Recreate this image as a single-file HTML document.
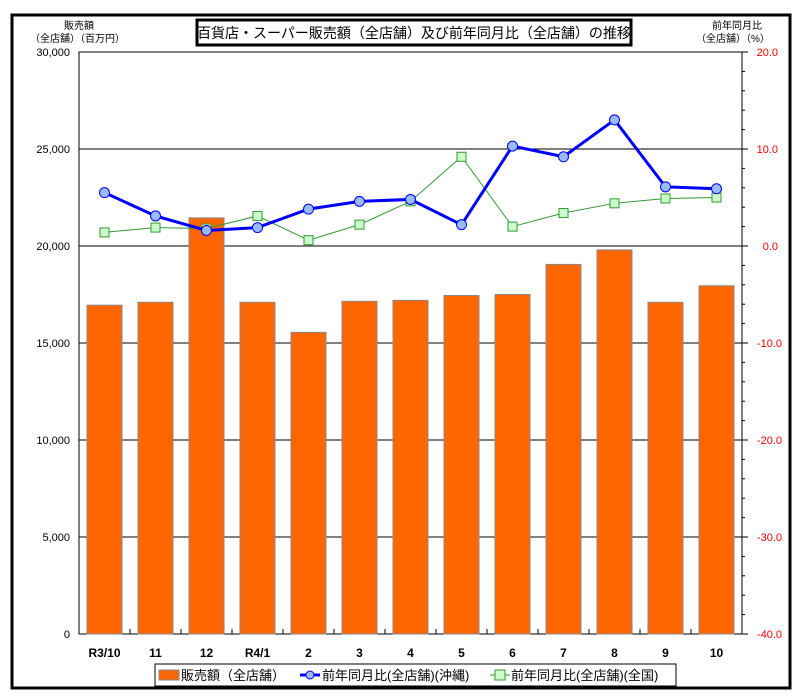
<!DOCTYPE html><html><head><meta charset="utf-8"><style>
body{margin:0;background:#fff;width:800px;height:695px;overflow:hidden}
text{font-family:"Liberation Sans","Noto Sans CJK JP",sans-serif}
</style></head><body>
<svg width="800" height="695" xmlns="http://www.w3.org/2000/svg">
<rect x="12" y="15" width="778" height="673" fill="#fff" stroke="#000" stroke-width="3"/>
<rect x="79" y="52" width="663" height="582" fill="#fff" stroke="#000" stroke-width="1"/>
<g stroke="#000" stroke-width="1">
<line x1="79" y1="149" x2="742" y2="149"/><line x1="79" y1="246" x2="742" y2="246"/>
<line x1="79" y1="343" x2="742" y2="343"/><line x1="79" y1="440" x2="742" y2="440"/>
<line x1="79" y1="537" x2="742" y2="537"/>
</g>
<g id="bars" fill="#ff6600" stroke="#8a8a8a" stroke-width="1"></g>
<g id="ticks" stroke="#000"></g>
<g font-size="11" text-anchor="end" fill="#000">
<text x="70" y="56">30,000</text><text x="70" y="153">25,000</text><text x="70" y="250">20,000</text>
<text x="70" y="347">15,000</text><text x="70" y="444">10,000</text><text x="70" y="541">5,000</text><text x="70" y="638">0</text>
</g>
<g font-size="11" text-anchor="end" fill="#ff0000">
<text x="778" y="56">20.0</text><text x="778" y="153">10.0</text><text x="778" y="250">0.0</text>
<text x="782" y="347">-10.0</text><text x="782" y="444">-20.0</text><text x="782" y="541">-30.0</text><text x="782" y="638">-40.0</text>
</g>
<g font-size="10" fill="#000">
<text x="64" y="29">販売額</text><text x="30" y="42">（全店舗）（百万円）</text>
<text x="712" y="29">前年同月比</text><text x="696" y="42">（全店舗）（%）</text>
</g>
<rect x="197" y="20" width="434" height="25" fill="#fff" stroke="#000" stroke-width="3"/>
<text x="414" y="38" font-size="14" text-anchor="middle">百貨店・スーパー販売額（全店舗）及び前年同月比（全店舗）の推移</text>
<g id="labels" font-size="12" font-weight="bold" text-anchor="middle"></g>
<polyline id="gl" fill="none" stroke="#339933" stroke-width="1"/>
<polyline id="bl" fill="none" stroke="#0000ff" stroke-width="3"/>
<g id="mk"></g>
<rect x="155" y="664" width="521" height="22" fill="#fff" stroke="#000"/>
<rect x="159" y="670" width="20" height="10" fill="#ff6600" stroke="#8a8a8a"/>
<text x="181" y="680" font-size="13">販売額（全店舗）</text>
<line x1="300" y1="675" x2="320" y2="675" stroke="#0000ff" stroke-width="3"/><circle cx="310" cy="675" r="4" fill="#99bbff" stroke="#0000ff"/>
<text x="322" y="680" font-size="13">前年同月比(全店舗)(沖縄)</text>
<line x1="490" y1="675" x2="510" y2="675" stroke="#339933"/><rect x="495" y="670" width="10" height="10" fill="#ccffcc" stroke="#339933"/>
<text x="511" y="680" font-size="13">前年同月比(全店舗)(全国)</text>
</svg>
<script>
const ns="http://www.w3.org/2000/svg";
const labs=["R3/10","11","12","R4/1","2","3","4","5","6","7","8","9","10"];
const bars=[16950,17100,21450,17100,15550,17150,17200,17450,17500,19050,19800,17100,17950];
const b=[5.5,3.1,1.6,1.9,3.8,4.6,4.8,2.2,10.3,9.2,13.0,6.1,5.9];
const g=[1.4,1.9,1.8,3.1,0.6,2.2,4.6,9.2,2.0,3.4,4.4,4.9,5.0];
const w=663/13;function el(t,a,p){const e=document.createElementNS(ns,t);for(const k in a)e.setAttribute(k,a[k]);document.getElementById(p).appendChild(e);return e}
let bp=[],gp=[];
for(let i=0;i<13;i++){const cx=79+w*(i+.5);const y=634-bars[i]*582/30000;
el("rect",{x:cx-17.5,y:y,width:35,height:634-y},"bars");
el("line",{x1:79+w*(i+1),y1:634,x2:79+w*(i+1),y2:629},"ticks");
const t=el("text",{x:cx,y:657},"labels");t.textContent=labs[i];
bp.push(cx+","+(246-b[i]*9.7));gp.push(cx+","+(246-g[i]*9.7));}
for(let v=20;v>=-40;v-=2){const y=246-v*9.7;el("line",{x1:742,y1:y,x2:v%10==0?748:745,y2:y},"ticks");}
document.getElementById("bl").setAttribute("points",bp.join(" "));
document.getElementById("gl").setAttribute("points",gp.join(" "));
for(let i=0;i<13;i++){const cx=79+w*(i+.5);
el("rect",{x:cx-4.5,y:246-g[i]*9.7-4.5,width:9,height:9,fill:"#ccffcc",stroke:"#339933"},"mk");}
for(let i=0;i<13;i++){const cx=79+w*(i+.5);
el("circle",{cx:cx,cy:246-b[i]*9.7,r:5,fill:"#99bbff",stroke:"#0000ff"},"mk");}
</script>
</body></html>
